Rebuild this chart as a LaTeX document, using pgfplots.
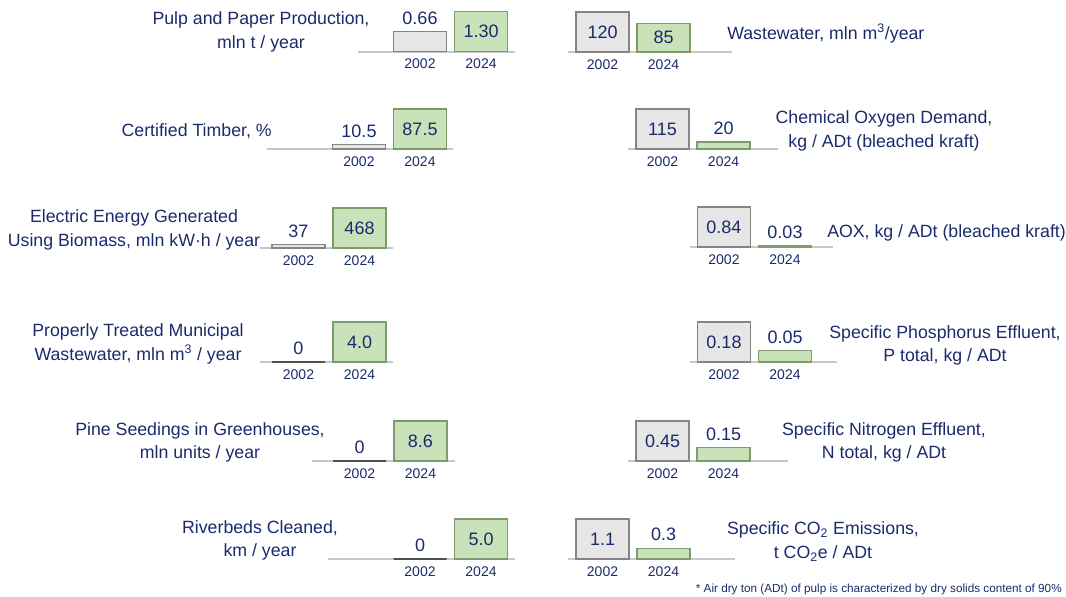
\documentclass[border=0pt]{standalone}
\usepackage{fontspec}
\setmainfont{Liberation Sans}
\usepackage{pgfplots}
\pgfplotsset{compat=1.18}
\definecolor{navy}{HTML}{1B2A6B}
\definecolor{basegray}{HTML}{C8C8C8}
\definecolor{oldfill}{HTML}{E6E6E6}
\definecolor{olddraw}{HTML}{858585}
\definecolor{zerodraw}{HTML}{505050}
\definecolor{newfill}{HTML}{C9E2BA}
\definecolor{newdraw}{HTML}{7E9B6E}
\def\u{0.75pt}
\newcommand\tfont{\fontsize{13.3pt}{17.6pt}\selectfont}
\newcommand\vfont{\fontsize{13.5pt}{15pt}\selectfont}
\newcommand\yfont{\fontsize{10.5pt}{12pt}\selectfont}
\newcommand\nfont{\fontsize{8.8pt}{10pt}\selectfont}
\pgfplotsset{
 mini/.style={scale only axis, height=30pt, ymin=0, anchor=south west,
   enlargelimits=false, clip=false,
   ybar, bar width=39.75pt, bar shift=0pt,
   hide y axis, axis x line*=bottom,
   x axis line style={-, draw=basegray, line width=1.5pt},
   xtick={0,1}, xticklabels={2002,2024}, major tick length=0pt, xtick style={draw=none},
   xticklabel style={font=\yfont, text=navy, yshift=-2pt},
   nodes near coords, point meta=explicit symbolic,
   every node near coord/.append style={font=\vfont, text=navy, anchor=center},
 },
 old/.style={fill=oldfill, draw=olddraw, line width=0.9pt},
 zero/.style={fill=oldfill, draw=zerodraw, line width=1.1pt},
 new/.style={fill=newfill, draw=newdraw, line width=0.9pt},
 inside/.style={every node near coord/.append style={yshift=-15pt}},
 above/.style={every node near coord/.append style={yshift=10pt}},
}
\begin{document}
\begin{tikzpicture}
\path[use as bounding box] (0,0) rectangle (1066*\u,-596*\u);
% P1 Pulp and paper
\begin{axis}[mini, at={(358*\u,-51.7*\u)}, width=157*\u, xmin=-1.016, xmax=1.557, ymax=1.30]
\addplot[old, above] coordinates {(0,0.66) [0.66]};
\addplot[new, inside] coordinates {(1,1.30) [1.30]};
\end{axis}
% P2 Wastewater
\begin{axis}[mini, at={(568*\u,-52*\u)}, width=164*\u, xmin=-0.566, xmax=2.123, ymax=120]
\addplot[old, inside] coordinates {(0,120) [120]};
\addplot[new, every node near coord/.append style={yshift=-10.6pt}] coordinates {(1,85) [85]};
\end{axis}
% P3 Certified timber
\begin{axis}[mini, at={(267*\u,-149*\u)}, width=186*\u, xmin=-1.508, xmax=1.541, ymax=87.5]
\addplot[old, above] coordinates {(0,10.5) [10.5]};
\addplot[new, inside] coordinates {(1,87.5) [87.5]};
\end{axis}
% P4 COD
\begin{axis}[mini, at={(628*\u,-149*\u)}, width=150*\u, xmin=-0.566, xmax=1.893, ymax=115]
\addplot[old, inside] coordinates {(0,115) [115]};
\addplot[new, above] coordinates {(1,20) [20]};
\end{axis}
% P5 Electric energy
\begin{axis}[mini, at={(260*\u,-248*\u)}, width=133*\u, xmin=-0.631, xmax=1.549, ymax=468]
\addplot[old, above] coordinates {(0,37) [37]};
\addplot[new, inside] coordinates {(1,468) [468]};
\end{axis}
% P6 AOX
\begin{axis}[mini, at={(690*\u,-247*\u)}, width=143*\u, xmin=-0.557, xmax=1.787, ymax=0.84]
\addplot[old, inside] coordinates {(0,0.84) [0.84]};
\addplot[new, above] coordinates {(1,0.03) [0.03]};
\end{axis}
% P7 Municipal wastewater
\begin{axis}[mini, at={(260*\u,-362*\u)}, width=133*\u, xmin=-0.631, xmax=1.549, ymax=4.0]
\addplot[zero, above] coordinates {(0,0) [0]};
\addplot[new, inside] coordinates {(1,4.0) [4.0]};
\end{axis}
% P8 Phosphorus
\begin{axis}[mini, at={(690*\u,-362*\u)}, width=147*\u, xmin=-0.557, xmax=1.852, ymax=0.18]
\addplot[old, inside] coordinates {(0,0.18) [0.18]};
\addplot[new, above] coordinates {(1,0.05) [0.05]};
\end{axis}
% P9 Pine seedings
\begin{axis}[mini, at={(312*\u,-461*\u)}, width=143*\u, xmin=-0.779, xmax=1.566, ymax=8.6]
\addplot[zero, above] coordinates {(0,0) [0]};
\addplot[new, inside] coordinates {(1,8.6) [8.6]};
\end{axis}
% P10 Nitrogen
\begin{axis}[mini, at={(628*\u,-461*\u)}, width=160*\u, xmin=-0.566, xmax=2.057, ymax=0.45]
\addplot[old, inside] coordinates {(0,0.45) [0.45]};
\addplot[new, above] coordinates {(1,0.15) [0.15]};
\end{axis}
% P11 Riverbeds
\begin{axis}[mini, at={(328*\u,-559*\u)}, width=187*\u, xmin=-1.508, xmax=1.557, ymax=5.0]
\addplot[zero, above] coordinates {(0,0) [0]};
\addplot[new, inside] coordinates {(1,5.0) [5.0]};
\end{axis}
% P12 CO2
\begin{axis}[mini, at={(568*\u,-559*\u)}, width=167*\u, xmin=-0.566, xmax=2.172, ymax=1.1]
\addplot[old, inside] coordinates {(0,1.1) [1.1]};
\addplot[new, above] coordinates {(1,0.3) [0.3]};
\end{axis}
% Titles
\begin{scope}[every node/.style={text=navy, font=\tfont, inner sep=0pt}]
\node[align=center] at (261*\u,-32*\u) {Pulp and Paper Production,\\mln t / year};
\node[anchor=base west] at (727*\u,-39*\u) {Wastewater, mln m\textsuperscript{3}/year};
\node[anchor=base east] at (272*\u,-136.7*\u) {Certified Timber, \%};
\node[align=center] at (884*\u,-131*\u) {Chemical Oxygen Demand,\\kg / ADt (bleached kraft)};
\node[align=center] at (134*\u,-230*\u) {Electric Energy Generated\\Using Biomass, mln kW·h / year};
\node[anchor=base west] at (827*\u,-237*\u) {AOX, kg / ADt (bleached kraft)};
\node[align=center] at (138*\u,-344*\u) {Properly Treated Municipal\\Wastewater, mln m\textsuperscript{3} / year};
\node[align=center] at (945*\u,-345.5*\u) {Specific Phosphorus Effluent,\\P total, kg / ADt};
\node[align=center] at (200*\u,-442.5*\u) {Pine Seedings in Greenhouses,\\mln units / year};
\node[align=center] at (884*\u,-442.5*\u) {Specific Nitrogen Effluent,\\N total, kg / ADt};
\node[align=center] at (260*\u,-540.5*\u) {Riverbeds Cleaned,\\km / year};
\node[align=center] at (823*\u,-541.5*\u) {Specific CO\textsubscript{2} Emissions,\\t CO\textsubscript{2}e / ADt};
\node[anchor=base east, font=\nfont] at (1062*\u,-592*\u) {* Air dry ton (ADt) of pulp is characterized by dry solids content of 90\%};
\end{scope}
\end{tikzpicture}
\end{document}
